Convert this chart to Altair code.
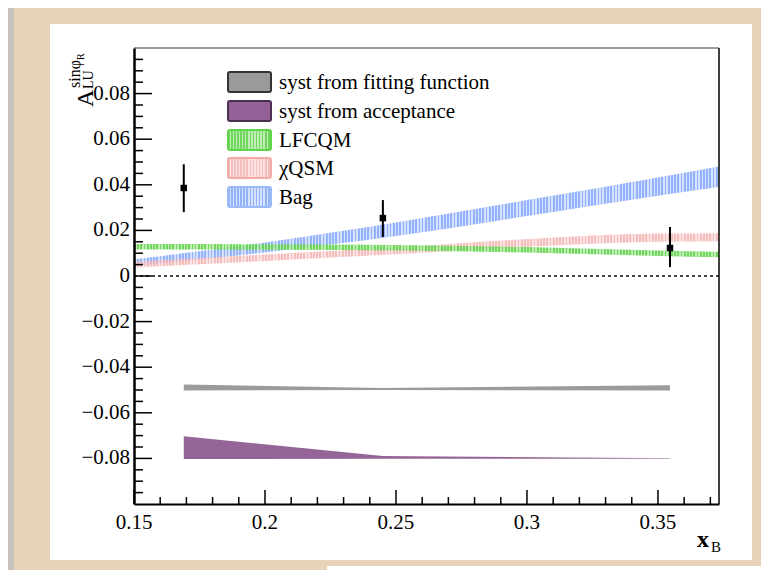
import altair as alt
import pandas as pd

# ---------------- data ----------------
# model bands (x_B nodes, lower and upper edge)
MODEL_X = [0.15, 0.2, 0.25, 0.3, 0.35, 0.3733]
BAG_LO = [0.0043, 0.0103, 0.0175, 0.0263, 0.0352, 0.0390]
BAG_HI = [0.0073, 0.0147, 0.0235, 0.0333, 0.0432, 0.0480]
CQSM_LO = [0.0037, 0.0066, 0.0095, 0.0128, 0.0150, 0.0152]
CQSM_HI = [0.0063, 0.0094, 0.0125, 0.0162, 0.0186, 0.0188]
LFCQM_LO = [0.0116, 0.0115, 0.0112, 0.0103, 0.0088, 0.0082]
LFCQM_HI = [0.0140, 0.0139, 0.0136, 0.0127, 0.0112, 0.0106]

# measured points
PX = [0.1690, 0.245, 0.3546]
PY = [0.0386, 0.0254, 0.0123]
PERR_LO = [0.0280, 0.0171, 0.0039]
PERR_HI = [0.0490, 0.0333, 0.0215]

# systematic bands
FIT_LO = [-0.0502, -0.0500, -0.0502]
FIT_HI = [-0.0476, -0.0491, -0.0479]
ACC_LO = [-0.0803, -0.0802, -0.0802]
ACC_HI = [-0.0703, -0.0790, -0.0799]

# axes
XTICKS = [0.15, 0.2, 0.25, 0.3, 0.35]
XLABELS = ["0.15", "0.2", "0.25", "0.3", "0.35"]
XMINOR = [0.16, 0.17, 0.18, 0.19, 0.21, 0.22, 0.23, 0.24, 0.26, 0.27, 0.28, 0.29,
          0.31, 0.32, 0.33, 0.34, 0.36, 0.37]
YTICKS = [-0.08, -0.06, -0.04, -0.02, 0.0, 0.02, 0.04, 0.06, 0.08]
YLABELS = ["−0.08", "−0.06", "−0.04", "−0.02", "0", "0.02", "0.04", "0.06", "0.08"]
YMINOR = [-0.095, -0.09, -0.085, -0.075, -0.07, -0.065, -0.055, -0.05, -0.045,
          -0.035, -0.03, -0.025, -0.015, -0.01, -0.005, 0.005, 0.01, 0.015,
          0.025, 0.03, 0.035, 0.045, 0.05, 0.055, 0.065, 0.07, 0.075, 0.085,
          0.09, 0.095]

LEGEND_LABELS = ["syst from fitting function", "syst from acceptance", "LFCQM", "χQSM", "Bag"]

FONT = "Liberation Serif"
W, H = 585, 456
XS = alt.Scale(domain=[0.15, 0.3733], nice=False, zero=False)
YS = alt.Scale(domain=[-0.1, 0.1], nice=False, zero=False)
XAX = alt.Axis(values=XTICKS, labels=False, title=None, grid=False, ticks=False,
               domainColor="black", domainWidth=2, zindex=1)
YAX = alt.Axis(values=YTICKS, labels=False, title=None, grid=False, ticks=False,
               domainColor="black", domainWidth=2.5, zindex=1)


def X(f):
    return alt.X(f, scale=XS, axis=XAX)


def Y(f):
    return alt.Y(f, scale=YS, axis=YAX)


def stripes(main, gap, n, duty=0.55):
    stops = []
    for i in range(n):
        a, b, c = i / n, (i + duty) / n, (i + 1) / n
        stops += [alt.GradientStop(offset=a, color=main),
                  alt.GradientStop(offset=b, color=main),
                  alt.GradientStop(offset=b, color=gap),
                  alt.GradientStop(offset=min(c, 1.0), color=gap)]
    return alt.LinearGradient(gradient="linear", stops=stops, x1=0, x2=1, y1=0, y2=0)


ONE = alt.Data(values=[{"a": 1}])

BLUE = ("rgba(135,170,250,0.9)", "rgba(185,205,255,0.6)", "#9bb9f7")
PINK = ("rgba(245,178,178,0.85)", "rgba(250,205,205,0.55)", "#f2aaaa")
GREEN = ("rgba(105,212,85,0.95)", "rgba(165,232,150,0.7)", "#5fd64a")


def deco_rect(x, x2, y, y2, **kw):
    return alt.Chart(ONE).mark_rect(**kw).encode(
        x=alt.value(x), x2=alt.value(x2), y=alt.value(y), y2=alt.value(y2))


def deco_text(txt, x, y, **kw):
    return alt.Chart(ONE).mark_text(text=txt, font=FONT, color="black", **kw).encode(
        x=alt.value(x), y=alt.value(y))


layers = []
# page decoration: left shadow strip, white panel, lower white box
layers.append(deco_rect(-126, -120, -40, 530, color="#c9c3bd"))
layers.append(deco_rect(-84, 618, -24, 512, color="white"))
layers.append(deco_rect(193, 640, 518, 535, color="white"))


def band(lo, hi, cols, n=183):
    df = pd.DataFrame({"x": MODEL_X, "lo": lo, "hi": hi})
    return alt.Chart(df).mark_area(interpolate="monotone", fill=stripes(cols[0], cols[1], n)).encode(
        x=X("x:Q"), y=Y("lo:Q"), y2="hi:Q")


layers.append(band(BAG_LO, BAG_HI, BLUE))
layers.append(band(CQSM_LO, CQSM_HI, PINK))
layers.append(band(LFCQM_LO, LFCQM_HI, GREEN))

# zero line
layers.append(alt.Chart(pd.DataFrame({"y": [0.0]})).mark_rule(
    color="#444", strokeWidth=2, strokeDash=[3, 3]).encode(
    y=Y("y:Q"), x=alt.value(0), x2=alt.value(W)))

# systematic bands
fit_df = pd.DataFrame({"x": PX, "lo": FIT_LO, "hi": FIT_HI})
layers.append(alt.Chart(fit_df).mark_area(color="#969696", opacity=0.95).encode(
    x=X("x:Q"), y=Y("lo:Q"), y2="hi:Q"))
acc_df = pd.DataFrame({"x": PX, "lo": ACC_LO, "hi": ACC_HI})
layers.append(alt.Chart(acc_df).mark_area(color="#966597", opacity=1).encode(
    x=X("x:Q"), y=Y("lo:Q"), y2="hi:Q"))

# data points
pts = pd.DataFrame({"x": PX, "y": PY, "lo": PERR_LO, "hi": PERR_HI})
layers.append(alt.Chart(pts).mark_rule(color="black", strokeWidth=2).encode(
    x=X("x:Q"), y=Y("lo:Q"), y2="hi:Q"))
layers.append(alt.Chart(pts).mark_square(color="black", size=42, opacity=1).encode(
    x=X("x:Q"), y=Y("y:Q")))

# inward ticks
layers.append(alt.Chart(pd.DataFrame({"v": YTICKS})).mark_rule(color="black", strokeWidth=1.5).encode(
    y=Y("v:Q"), x=alt.value(0), x2=alt.value(18)))
layers.append(alt.Chart(pd.DataFrame({"v": YMINOR})).mark_rule(color="black", strokeWidth=1.5).encode(
    y=Y("v:Q"), x=alt.value(0), x2=alt.value(9)))
layers.append(alt.Chart(pd.DataFrame({"v": XTICKS})).mark_rule(color="black", strokeWidth=1.5).encode(
    x=X("v:Q"), y=alt.value(H), y2=alt.value(H - 14)))
layers.append(alt.Chart(pd.DataFrame({"v": XMINOR})).mark_rule(color="black", strokeWidth=1.5).encode(
    x=X("v:Q"), y=alt.value(H), y2=alt.value(H - 7)))

# tick labels (serif, as in the original)
layers.append(alt.Chart(pd.DataFrame({"v": XTICKS, "t": XLABELS})).mark_text(
    font=FONT, fontSize=21, color="black", align="center", baseline="top").encode(
    x=X("v:Q"), y=alt.value(H + 8), text="t:N"))
layers.append(alt.Chart(pd.DataFrame({"v": YTICKS, "t": YLABELS})).mark_text(
    font=FONT, fontSize=21, color="black", align="right", baseline="middle").encode(
    y=Y("v:Q"), x=alt.value(-4), text="t:N"))

# frame top and right
layers.append(alt.Chart(ONE).mark_rule(color="#9a9a9a", strokeWidth=2).encode(
    x=alt.value(0), x2=alt.value(W), y=alt.value(0)))
layers.append(alt.Chart(ONE).mark_rule(color="black", strokeWidth=1.5).encode(
    x=alt.value(W), y=alt.value(0), y2=alt.value(H)))

# legend
rows = [34, 63, 92, 120, 149]
swatch_fill = [
    ("#9a9a9a", "#333333"),
    ("#946196", "#4a3150"),
    (stripes(GREEN[0], GREEN[1], 14), GREEN[2]),
    (stripes(PINK[0], PINK[1], 14), PINK[2]),
    (stripes(BLUE[0], BLUE[1], 14), BLUE[2]),
]
for label, yc, (fill, stroke) in zip(LEGEND_LABELS, rows, swatch_fill):
    layers.append(deco_rect(94, 137, yc - 10, yc + 10, fill=fill, stroke=stroke,
                            strokeWidth=2, cornerRadius=2))
    layers.append(deco_text(label, 145, yc + 1, fontSize=21, align="left", baseline="middle"))

# y axis title  A_LU^{sin phi_R}
layers.append(deco_text("A", -41, 59, fontSize=24, angle=270, align="left", baseline="alphabetic"))
layers.append(deco_text("LU", -41, 41, fontSize=14, angle=270, align="left", baseline="alphabetic"))
layers.append(deco_text("sinφ", -54, 40, fontSize=16, angle=270, align="left", baseline="alphabetic"))
layers.append(deco_text("R", -50, 12, fontSize=10, angle=270, align="left", baseline="alphabetic"))

# x axis title x_B
layers.append(deco_text("x", 563, 499, fontSize=24, fontWeight="bold", align="left", baseline="alphabetic"))
layers.append(deco_text("B", 577, 504, fontSize=15, align="left", baseline="alphabetic"))

chart = alt.layer(*layers).properties(
    width=W, height=H,
    padding={"left": 126, "top": 40, "right": 42, "bottom": 66},
    autosize=alt.AutoSizeParams(type="none"),
    background="#e8d2b9",
).configure_view(stroke=None)

chart.save("out.html", embed_options={"renderer": "svg", "actions": False})
